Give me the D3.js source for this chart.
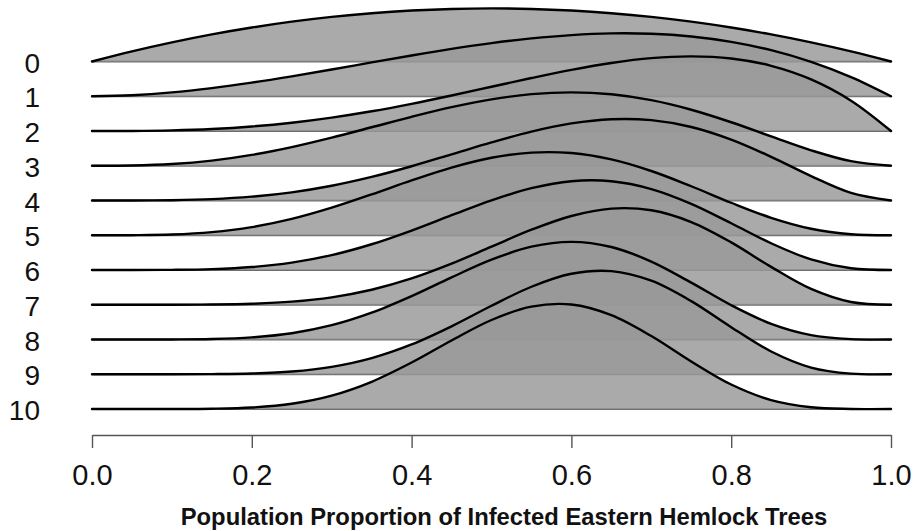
<!DOCTYPE html>
<html>
<head>
<meta charset="utf-8">
<script src="https://cdn.jsdelivr.net/npm/d3@7"></script>
<style>
  body { margin: 0; background: #fff; }
  svg { display: block; font-family: "Liberation Sans", Arial, Helvetica, sans-serif; }
</style>
</head>
<body>
<svg id="ridge-chart"></svg>
<script>
const outerWidth = 917;
const outerHeight = 531;

// row labels (number of infected trees observed), top to bottom
const rowLabels = ["0", "1", "2", "3", "4", "5", "6", "7", "8", "9", "10"];
const xTicks = [0, 0.2, 0.4, 0.6, 0.8, 1.0];
const xTitle = "Population Proportion of Infected Eastern Hemlock Trees";

// proportion grid the densities were read at
const xGrid = [0, 0.05, 0.1, 0.15, 0.2, 0.25, 0.3, 0.35, 0.4, 0.45, 0.5,
               0.55, 0.6, 0.65, 0.7, 0.75, 0.8, 0.85, 0.9, 0.95, 1];

// density heights per row
const dens0 = [0, 0.285, 0.54, 0.765, 0.96, 1.125, 1.26, 1.365, 1.44, 1.485, 1.5,
               1.485, 1.44, 1.365, 1.26, 1.125, 0.96, 0.765, 0.54, 0.285, 0];
const dens1 = [0, 0.029, 0.108, 0.230, 0.384, 0.563, 0.756, 0.956, 1.152, 1.337, 1.5,
               1.634, 1.728, 1.775, 1.764, 1.688, 1.536, 1.301, 0.972, 0.542, 0];
const dens2 = [0, 0.002, 0.018, 0.057, 0.128, 0.234, 0.378, 0.557, 0.768, 1.002, 1.25,
               1.497, 1.728, 1.922, 2.058, 2.109, 2.048, 1.842, 1.458, 0.857, 0];
const dens3 = [0, 0.007, 0.049, 0.146, 0.307, 0.527, 0.794, 1.087, 1.382, 1.654, 1.875,
               2.022, 2.074, 2.019, 1.852, 1.582, 1.229, 0.829, 0.437, 0.129, 0];
const dens4 = [0, 0.001, 0.009, 0.038, 0.108, 0.231, 0.417, 0.666, 0.968, 1.303, 1.641,
               1.946, 2.177, 2.296, 2.269, 2.076, 1.720, 1.233, 0.689, 0.214, 0];
const dens5 = [0, 0.002, 0.020, 0.087, 0.229, 0.461, 0.778, 1.154, 1.548, 1.910, 2.188,
               2.335, 2.322, 2.143, 1.815, 1.384, 0.918, 0.493, 0.184, 0.029, 0];
const dens6 = [0, 0.000, 0.004, 0.024, 0.083, 0.208, 0.420, 0.727, 1.115, 1.547, 1.969,
               2.311, 2.508, 2.507, 2.287, 1.869, 1.321, 0.755, 0.298, 0.049, 0];
const dens7 = [0, 0.000, 0.001, 0.006, 0.028, 0.087, 0.210, 0.424, 0.743, 1.161, 1.641,
               2.119, 2.508, 2.716, 2.668, 2.336, 1.762, 1.069, 0.446, 0.077, 0];
const dens8 = [0, 0.000, 0.002, 0.014, 0.061, 0.178, 0.404, 0.758, 1.226, 1.755, 2.256,
               2.622, 2.759, 2.614, 2.201, 1.606, 0.969, 0.441, 0.123, 0.011, 0];
const dens9 = [0, 0.000, 0.000, 0.004, 0.021, 0.076, 0.208, 0.455, 0.841, 1.354, 1.934,
               2.472, 2.838, 2.913, 2.642, 2.065, 1.329, 0.643, 0.189, 0.017, 0];
const dens10 = [0, 0.000, 0.001, 0.008, 0.043, 0.149, 0.379, 0.769, 1.312, 1.936, 2.514,
                2.892, 2.951, 2.651, 2.060, 1.342, 0.691, 0.251, 0.049, 0.002, 0];

const densities = [dens0, dens1, dens2, dens3, dens4, dens5, dens6, dens7, dens8, dens9, dens10];

const svg = d3.select("#ridge-chart")
    .attr("width", outerWidth)
    .attr("height", outerHeight)
    .attr("viewBox", `0 0 ${outerWidth} ${outerHeight}`);

const x = d3.scaleLinear().domain([0, 1]).range([92, 891]);
const rowY = d3.scalePoint().domain(rowLabels).range([61.5, 409]);
const h = d3.scaleLinear().domain([0, 3]).range([0, 106.2]);

const smooth = d3.curveCatmullRom.alpha(0.5);

// one ridge per row, drawn top to bottom so lower rows sit on top
rowLabels.forEach((label, i) => {
    const base = rowY(label);
    const pts = densities[i].map((d, j) => [xGrid[j], d]);
    const g = svg.append("g").attr("class", "ridge");

    g.append("line")
        .attr("x1", x(0))
        .attr("x2", x(1))
        .attr("y1", base)
        .attr("y2", base)
        .attr("stroke", "#6e6e6e")
        .attr("stroke-width", 2);

    g.append("path")
        .datum(pts)
        .attr("fill", "#999999")
        .attr("fill-opacity", 0.83)
        .attr("d", d3.area()
            .x(d => x(d[0]))
            .y0(base)
            .y1(d => Math.min(base, base - h(d[1])))
            .curve(smooth));

    g.append("path")
        .datum(pts)
        .attr("fill", "none")
        .attr("stroke", "#000")
        .attr("stroke-width", 2.4)
        .attr("stroke-linejoin", "round")
        .attr("stroke-linecap", "round")
        .attr("d", d3.line()
            .x(d => x(d[0]))
            .y(d => base - h(d[1]))
            .curve(smooth));
});

// row labels on the left
svg.append("g")
    .selectAll("text")
    .data(rowLabels)
    .enter().append("text")
    .attr("x", 40)
    .attr("y", d => rowY(d) + 1)
    .attr("dy", "0.36em")
    .attr("text-anchor", "end")
    .style("font-size", "28px")
    .style("fill", "#111")
    .text(d => d);

// bottom axis
const xAxis = svg.append("g")
    .attr("transform", "translate(0,435)")
    .call(d3.axisBottom(x)
        .tickValues(xTicks)
        .tickFormat(d3.format(".1f"))
        .tickSize(13)
        .tickSizeOuter(0)
        .tickPadding(16));

xAxis.select(".domain").attr("stroke", "#555").attr("stroke-width", 1.4);
xAxis.selectAll(".tick line").attr("stroke", "#555").attr("stroke-width", 1.4);
xAxis.selectAll(".tick text")
    .style("font-size", "29px")
    .style("font-family", "\"Liberation Sans\", Arial, sans-serif")
    .attr("fill", "#111");

svg.append("text")
    .attr("x", 504)
    .attr("y", 525)
    .attr("text-anchor", "middle")
    .style("font-size", "23.8px")
    .style("font-weight", "bold")
    .style("fill", "#111")
    .text(xTitle);
</script>
</body>
</html>
